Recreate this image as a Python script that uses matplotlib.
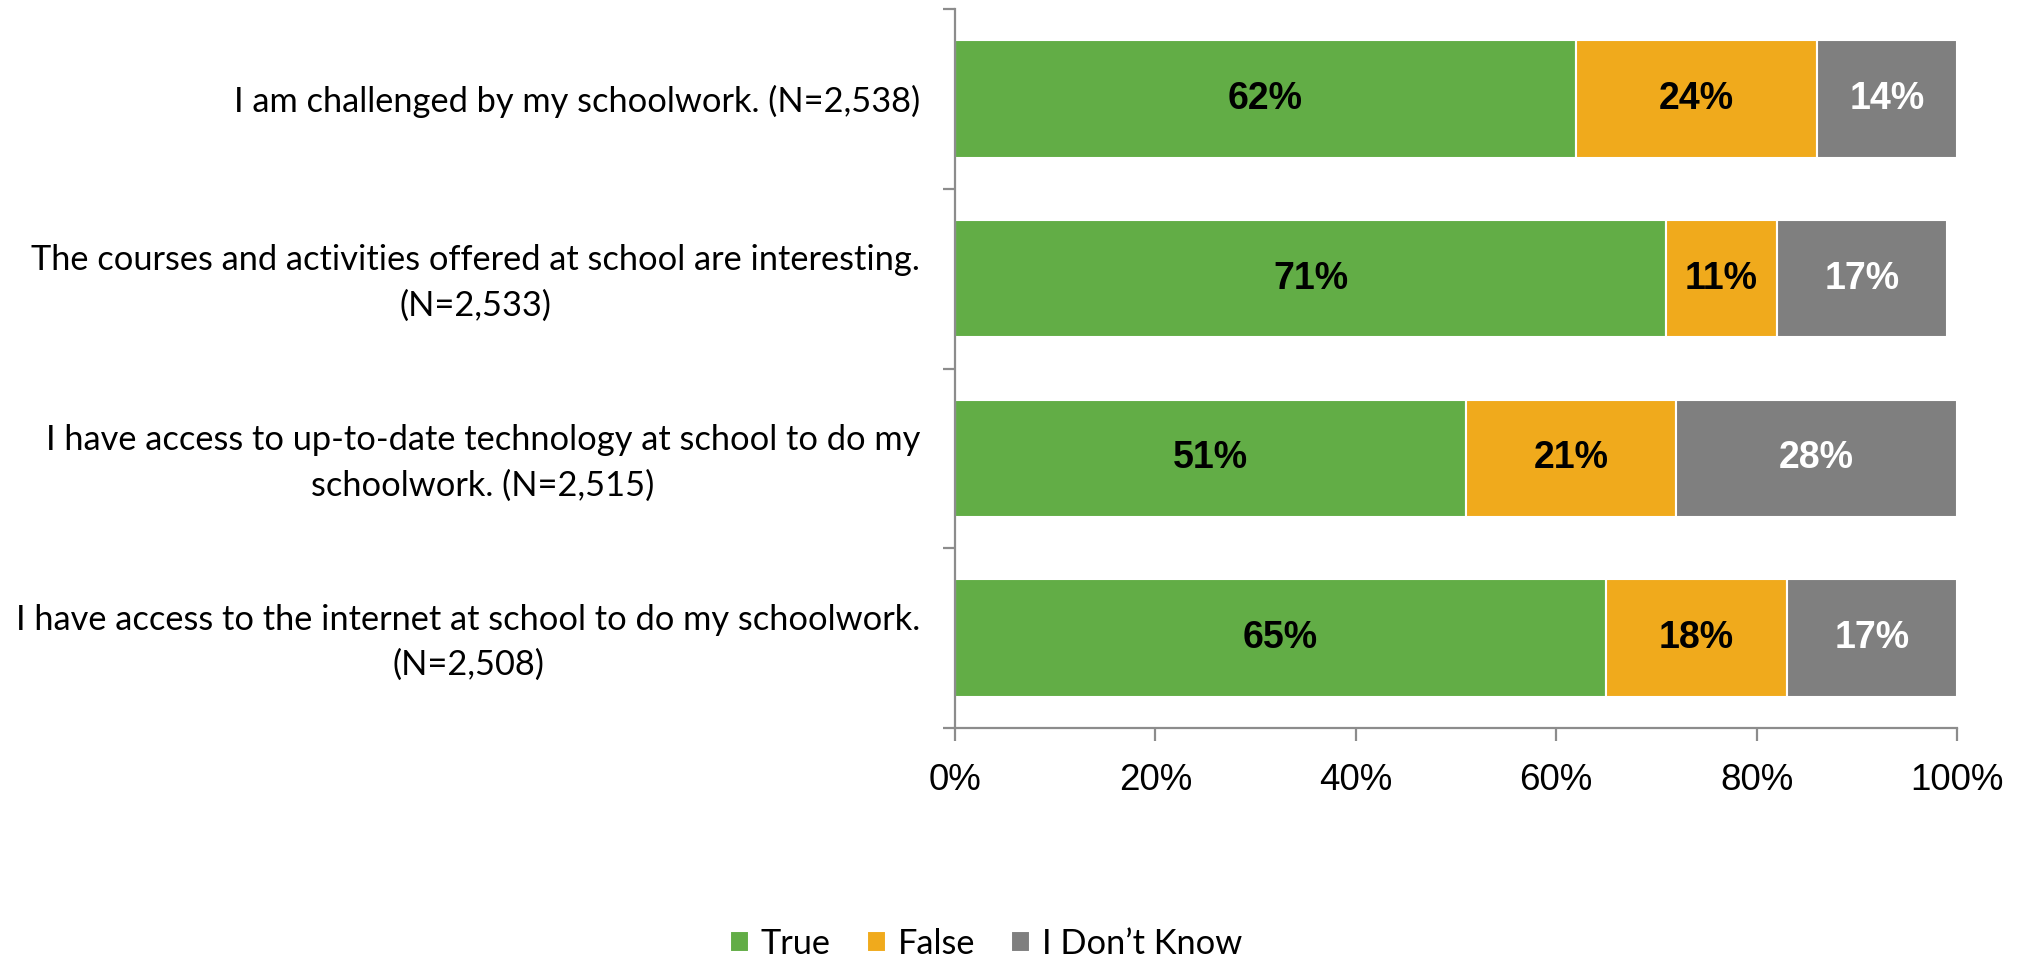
import matplotlib
matplotlib.use("Agg")
import matplotlib.pyplot as plt
import matplotlib.transforms as mtransforms
import numpy as np

categories = [
    "I am challenged by my schoolwork. (N=2,538)",
    "The courses and activities offered at school are interesting.\n(N=2,533)",
    "I have access to up-to-date technology at school to do my\nschoolwork. (N=2,515)",
    "I have access to the internet at school to do my schoolwork.\n(N=2,508)",
]
series_names = ["True", "False", "I Don\u2019t Know"]
true_vals = [62, 71, 51, 65]
false_vals = [24, 11, 21, 18]
dk_vals = [14, 17, 28, 17]
x_ticks = [0, 20, 40, 60, 80, 100]
x_ticklabels = ["0%", "20%", "40%", "60%", "80%", "100%"]

colors = ["#62AD46", "#F0AA1C", "#7F7F7F"]
label_colors = ["black", "black", "white"]

W, H = 2028, 956
fig = plt.figure(figsize=(W / 100, H / 100), dpi=100)
ax = fig.add_axes([955 / W, 1 - 728 / H, (1957 - 955) / W, (728 - 9) / H])

label_font = "Lato"
# fit label font size so the first label matches its width in the reference
probe = fig.text(0, 0, categories[0], fontsize=24, family=label_font)
fig.canvas.draw()
wpx = probe.get_window_extent().width
probe.remove()
label_fs = 24 * 687 / wpx

y = np.arange(len(categories))
left = np.zeros(len(categories))
for vals, name, col, lc in zip([true_vals, false_vals, dk_vals], series_names, colors, label_colors):
    vals = np.array(vals, dtype=float)
    bars = ax.barh(y, vals, left=left, height=0.655, color=col, edgecolor="white",
                   linewidth=1.5, label=name)
    for b, v in zip(bars, vals):
        ax.text(b.get_x() + b.get_width() / 2, b.get_y() + b.get_height() / 2,
                f"{int(v)}%", ha="center", va="center", fontsize=27,
                fontweight="bold", color=lc, family="Liberation Sans")
    left += vals

ax.set_xlim(0, 100)
ax.set_ylim(3.5, -0.5)
ax.set_xticks(x_ticks)
ax.set_xticklabels(x_ticklabels, fontsize=26.5, family="Liberation Sans")
ax.set_yticks(y)
ax.set_yticklabels(categories, fontsize=label_fs, family=label_font,
                   multialignment="center", linespacing=1.5)
ax.set_yticks(np.arange(-0.5, 4.0, 1.0), minor=True)

spine_col = "#8C8C8C"
for s in ["top", "right"]:
    ax.spines[s].set_visible(False)
for s in ["left", "bottom"]:
    ax.spines[s].set_color(spine_col)
    ax.spines[s].set_linewidth(1.6)

ax.tick_params(axis="x", which="major", direction="out", length=9, width=1.6,
               color=spine_col, pad=16)
ax.tick_params(axis="y", which="major", length=0, pad=25)
ax.tick_params(axis="y", which="minor", direction="out", length=9, width=1.6,
               color=spine_col)

# multi-line labels sit slightly higher in the reference
shift = mtransforms.ScaledTranslation(0, 5 / 100, fig.dpi_scale_trans)
for lbl in ax.get_yticklabels():
    if "\n" in lbl.get_text():
        lbl.set_transform(lbl.get_transform() + shift)

leg = fig.legend(loc="center", bbox_to_anchor=(986 / W, 1 - 944 / H), ncol=3,
                 frameon=False, prop={"family": label_font, "size": label_fs},
                 handlelength=0.55, handleheight=0.55, handletextpad=0.35,
                 columnspacing=1.05)

fig.savefig("out.png", dpi=100)
